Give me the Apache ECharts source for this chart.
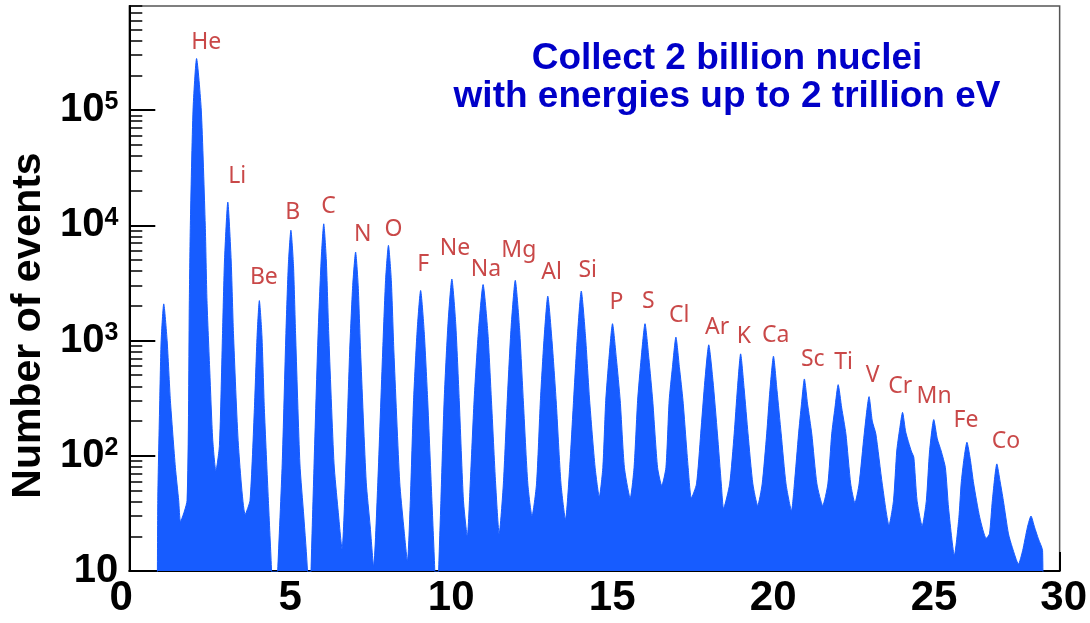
<!DOCTYPE html>
<html><head><meta charset="utf-8">
<script src="https://cdn.jsdelivr.net/npm/echarts@6/dist/echarts.min.js"></script>
<style>html,body{margin:0;padding:0;background:#fff}#c{width:1090px;height:623px}</style>
</head><body><div id="c"></div>
<script>
// Charge Z (x) of the spectrum outline
const spectrumZ = [
0.865,0.885,0.946,0.99,1.07,1.175,1.277,1.432,1.534,1.59,
1.794,1.865,1.896,1.98,2.09,2.236,2.36,2.413,2.50,2.59,2.69,
2.80,2.896,2.958,3.06,3.164,3.236,3.39,3.60,
3.75,3.886,3.97,4.04,4.12,4.195,4.32,4.42,4.51,
4.61,4.75,4.865,4.94,5.02,5.10,5.165,5.30,5.42,5.535,5.59,
5.645,5.74,5.865,5.96,6.04,6.12,6.195,6.36,6.48,6.61,
6.71,6.845,6.94,7.03,7.11,7.185,7.36,7.48,7.59,
7.72,7.87,7.96,8.05,8.14,8.22,8.40,8.52,8.64,
8.73,8.83,8.94,9.05,9.16,9.27,9.40,9.49,9.555,
9.61,9.68,9.78,9.90,10.02,10.14,10.25,10.38,10.50,
10.59,10.71,10.84,10.99,11.14,11.25,11.38,11.49,
11.62,11.74,11.86,11.99,12.12,12.24,12.38,12.51,
12.65,12.77,12.88,13.00,13.13,13.26,13.41,13.55,
13.68,13.80,13.92,14.04,14.17,14.30,14.47,14.60,
14.71,14.80,14.90,15.01,15.13,15.25,15.38,15.56,
15.68,15.79,15.90,16.02,16.14,16.26,16.41,16.54,
16.67,16.77,16.87,16.98,17.09,17.20,17.36,17.46,
17.62,17.75,17.88,18.00,18.13,18.27,18.39,18.46,
18.65,18.79,18.89,18.99,19.10,19.22,19.37,19.52,
19.66,19.80,19.90,20.01,20.12,20.25,20.40,20.57,
20.66,20.79,20.88,20.97,21.07,21.20,21.36,21.54,
21.70,21.82,21.92,22.02,22.13,22.26,22.41,22.54,
22.67,22.83,22.98,23.08,23.19,23.39,23.60,
23.74,23.84,23.93,24.02,24.12,24.29,24.37,24.47,24.63,
24.76,24.86,24.99,25.10,25.22,25.35,25.45,25.63,
25.77,25.84,25.93,26.02,26.12,26.23,26.42,26.62,
26.72,26.81,26.95,27.05,27.15,27.31,27.43,27.62,
27.75,27.90,28.01,28.12,28.24,28.37,28.39
];
// Number of events at each point above
const spectrumCounts = [
2,41,300,1000,2080,1000,300,79,41,27,
41,2230,10000,100000,280000,100000,10000,2230,545,140,74,
123,1150,5000,15900,5000,1150,123,31,
41,257,1100,2220,1100,257,41,10,2,
10,85,1150,4500,9060,4500,1150,85,30,10,2,
10,85,1150,5000,10300,5000,1150,85,35,15.5,
59,794,3000,5860,3000,794,59,25,11,
59,794,3300,6700,3300,794,59,25,12.2,
41,300,1200,2720,1200,300,41,10,2,
10,41,300,1400,3420,1400,300,41,20,
57,300,1150,3060,1150,300,57,21,
57,300,1300,3330,1300,300,57,30,
57,300,1000,2430,1000,300,57,28,
79,300,1100,2690,1100,300,79,44,
79,300,700,1400,700,300,79,43,
79,300,700,1400,700,300,79,55,
79,300,580,1070,580,300,79,43,
57,155,450,918,450,155,57,35,
57,155,380,766,380,155,57,37,
57,155,370,731,370,155,57,33.5,
57,155,280,464,280,155,57,37,
57,155,260,414,260,155,57,39,
57,155,326,200,155,57,25,
41,110,170,238,160,110,97,41,24.6,
41,110,206,140,110,79,35,13.7,
29,57,95,131,95,57,29,19.2,
21,41,85,60,41,21,16,11.5,
15,24,30,24,19,15,2
];
// Element labels: name, Z position and height of the label
const elementNames = ['He','Li','Be','B','C','N','O','F','Ne','Na','Mg','Al','Si','P','S','Cl','Ar','K','Ca','Sc','Ti','V','Cr','Mn','Fe','Co'];
const elementLabelZ = [2.39,3.35,4.18,5.08,6.19,7.25,8.21,9.13,10.12,11.08,12.10,13.12,14.24,15.13,16.12,17.08,18.26,19.09,20.08,21.23,22.19,23.09,23.95,25.0,25.99,27.23];
const elementLabelCounts = [383000,26700,3530,12970,14600,8350,9230,4580,6310,4140,6070,3900,4060,2140,2180,1650,1300,1080,1100,684,644,497,398,326,201,132];
// Axis ticks
const yMajorTicks = [10,100,1000,10000,100000];
const yMinorTicks = [20,30,40,50,60,70,80,90,200,300,400,500,600,700,800,900,2000,3000,4000,5000,6000,7000,8000,9000,20000,30000,40000,50000,60000,70000,80000,90000,200000,300000,400000,500000,600000,700000,800000];
const xTickLabels = ['0','5','10','15','20','25','30'];
const titleLines = ['Collect 2 billion nuclei','with energies up to 2 trillion eV'];

const X_MAX = 28.9, Y_MIN = 10, Y_MAX = 800000;
const BLUE = '#175CFF', RED = '#BC1A1A';
const FONT = '"Liberation Sans", Arial, sans-serif';
const chart = echarts.init(document.getElementById('c'), null, {renderer: 'canvas'});

const spectrum = spectrumZ.map((z, i) => [z, spectrumCounts[i]]);
const labels = elementNames.map((n, i) => ({name: n, value: [elementLabelZ[i], elementLabelCounts[i]]}));

const xLabelStyle = {fontFamily: FONT, fontWeight: 'bold', fontSize: 42, color: '#000'};

chart.setOption({
  animation: false,
  backgroundColor: '#fff',
  grid: {left: 129, right: 27, top: 6, bottom: 52, show: true, borderColor: '#555', borderWidth: 1.5, backgroundColor: 'transparent'},
  graphic: [
    {type: 'text', x: 727, y: 58.5, style: {text: titleLines[0], fill: '#0000C8', font: 'bold 37px ' + FONT, align: 'center', verticalAlign: 'middle'}},
    {type: 'text', x: 727, y: 97, style: {text: titleLines[1], fill: '#0000C8', font: 'bold 37px ' + FONT, align: 'center', verticalAlign: 'middle'}}
  ],
  xAxis: [
    {type: 'value', min: 0, max: X_MAX, interval: 5, position: 'bottom',
     axisLine: {show: true, lineStyle: {color: '#000', width: 2}},
     axisTick: {show: true, inside: true, length: 19, lineStyle: {color: '#000', width: 2}},
     axisLabel: {show: true, showMaxLabel: true, showMinLabel: true, margin: 6, color: '#000',
       fontFamily: FONT, fontWeight: 'bold', fontSize: 42,
       formatter: v => {
         if (v > 28) return '{r|' + xTickLabels[6] + '}';
         if (v === 0) return '{l|' + xTickLabels[0] + '}';
         return '{n|' + xTickLabels[Math.round(v / 5)] + '}';
       },
       rich: {
         n: xLabelStyle,
         l: Object.assign({padding: [0, 16, 0, 0]}, xLabelStyle),
         r: Object.assign({padding: [0, 0, 0, 8]}, xLabelStyle)
       }},
     splitLine: {show: false}},
    {type: 'value', min: 0, max: X_MAX, interval: 1, position: 'bottom',
     axisLine: {show: false}, axisLabel: {show: false}, splitLine: {show: false},
     axisTick: {show: true, inside: true, length: 8, lineStyle: {color: '#000', width: 1.5}}}
  ],
  yAxis: [
    {type: 'log', logBase: 10, min: Y_MIN, max: Y_MAX, position: 'left',
     name: 'Number of events', nameLocation: 'middle', nameGap: 80,
     nameTextStyle: {fontSize: 41, fontWeight: 'bold', color: '#000', fontFamily: FONT, padding: [0, 74, 0, 0]},
     axisLine: {show: true, lineStyle: {color: '#000', width: 2}},
     axisTick: {show: true, inside: true, length: 26, lineStyle: {color: '#000', width: 2}},
     axisLabel: {show: true, showMaxLabel: false, margin: 11, color: '#000',
       formatter: v => {
         const e = Math.round(Math.log10(v));
         if (yMajorTicks.indexOf(v) < 0 && Math.abs(Math.pow(10, e) - v) > 1e-6 * v) return '';
         return e === 1 ? '{b|10}' : '{b|10}{s|' + e + '}';
       },
       rich: {
         b: {fontSize: 40, lineHeight: 40, fontWeight: 'bold', color: '#000', fontFamily: FONT},
         s: {fontSize: 25, lineHeight: 25, fontWeight: 'bold', color: '#000', verticalAlign: 'top', fontFamily: FONT}
       }},
     splitLine: {show: false}},
    {type: 'log', logBase: 10, min: Y_MIN, max: Y_MAX, position: 'left', offset: 0,
     axisLine: {show: false}, axisLabel: {show: false}, splitLine: {show: false},
     axisTick: {show: true, inside: true, length: 13, customValues: yMinorTicks, lineStyle: {color: '#000', width: 1.5}}}
  ],
  series: [
    {type: 'line', xAxisIndex: 0, yAxisIndex: 0, data: spectrum, showSymbol: false, symbol: 'none',
     smooth: 0.2, clip: true,
     lineStyle: {color: BLUE, width: 1}, areaStyle: {color: BLUE, opacity: 1}, z: 2},
    {type: 'scatter', xAxisIndex: 0, yAxisIndex: 0, data: labels, symbolSize: 0, silent: true,
     label: {show: true, position: 'inside', formatter: '{b}', color: RED, fontSize: 23, fontFamily: '"Noto Sans", "Open Sans", sans-serif'}, z: 3}
  ]
});
</script>
</body></html>
